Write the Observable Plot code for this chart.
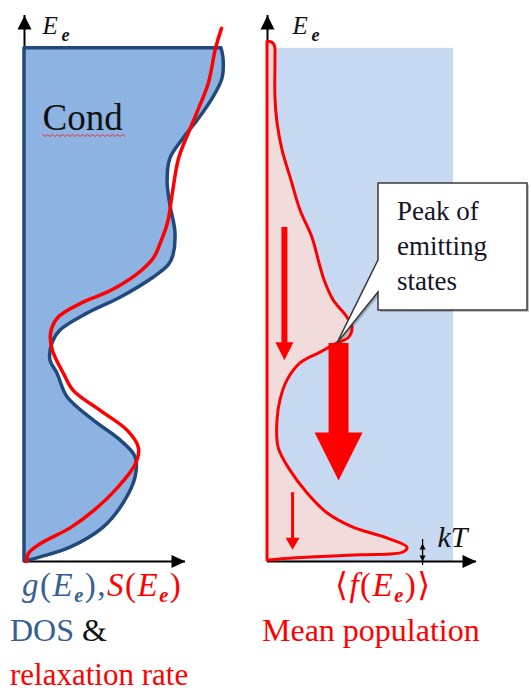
<!DOCTYPE html>
<html>
<head>
<meta charset="utf-8">
<script src="https://cdn.jsdelivr.net/npm/d3@7"></script>
<script src="https://cdn.jsdelivr.net/npm/@observablehq/plot@0.6"></script>
<style>
  body { margin: 0; background: #fff; }
  #fig { position: relative; width: 531px; height: 693px; font-family: "Liberation Serif", "Tinos", "Times New Roman", "DejaVu Serif", serif; }
  #fig svg { position: absolute; top: 0; }
  .cap { position: absolute; white-space: nowrap; line-height: 0.85; }
  .blue { color: #376092; }
  .red { color: #ff0000; }
  .ink { color: #111; }
  .sub { font-size: 0.62em; position: relative; top: 0.28em; font-weight: bold; }
</style>
</head>
<body>
<div id="fig">
  <div class="cap" style="left:22px;top:571px;font-size:33px;letter-spacing:1.5px"><span class="blue"><i>g</i>(<i>E</i><span class="sub"><i>e</i></span>),</span><span class="red"><i>S</i>(<i>E</i><span class="sub"><i>e</i></span>)</span></div>
  <div class="cap red" style="left:335px;top:571px;font-size:33px;letter-spacing:1.5px">⟨<i>f</i>(<i>E</i><span class="sub"><i>e</i></span>)⟩</div>
  <div class="cap" style="left:10px;top:617px;font-size:32px"><span class="blue">DOS</span> <span class="ink">&amp;</span></div>
  <div class="cap red" style="left:262px;top:617px;font-size:32px">Mean population</div>
  <div class="cap red" style="left:10px;top:662px;font-size:31px">relaxation rate</div>
</div>
<script>
// Electron energy E_e in arbitrary units; the conduction band spans 0–100.

// Density of states g(E_e)
const dosEnergy = [100, 98.0, 94.1, 89.8, 85.9, 82.4, 78.5, 73.9, 69.4, 64.1, 59.6, 57.7, 55.3, 51.4, 48.3, 45.0, 42.5, 39.2, 36.6, 32.0, 27.5, 23.6, 20.3, 16.4, 11.3, 6.6, 2.7, 0.8, 0];
const dosValue  = [97.9, 98.9, 98.4, 92.9, 86.0, 79.0, 72.5, 71.1, 72.5, 75.0, 74.0, 71.6, 64.1, 47.7, 31.3, 17.9, 13.9, 12.9, 16.4, 21.4, 34.3, 47.7, 55.2, 55.2, 49.2, 39.3, 22.9, 8.0, 0.5];

// Relaxation rate S(E_e)
const relaxEnergy = [103.9, 100, 93.3, 88.3, 83.6, 78.5, 71.9, 66.1, 62.2, 59.2, 56.1, 52.8, 50.3, 47.5, 44.4, 41.1, 36.6, 33.3, 29.4, 25.5, 22.2, 19.1, 14.4, 9.9, 6.6, 3.5, 1.6, 0];
const relaxValue  = [97.9, 94.9, 91.4, 86.5, 81.5, 76.5, 73.5, 71.1, 67.6, 64.1, 56.1, 42.7, 27.8, 16.4, 12.9, 13.9, 19.4, 24.3, 37.8, 51.2, 56.6, 55.2, 46.2, 34.3, 22.9, 8.0, 2.0, 1.0];

// Mean population <f(E_e)>
const popEnergy = [101.3, 101.1, 100.4, 98.0, 90.4, 85.4, 80.1, 74.2, 68.4, 63.1, 58.1, 54.8, 50.9, 47.5, 45.4, 43.5, 42.5, 40.7, 38.6, 35.3, 31.4, 27.5, 22.2, 17.7, 13.3, 9.4, 6.6, 4.5, 2.7, 1.75, 1.2, 0.6, 0.2];
const popValue  = [0.5, 2.4, 3.6, 3.8, 3.8, 4.8, 7.2, 11.5, 15.8, 21.5, 24.9, 27.3, 31.6, 38.3, 40.7, 38.8, 33.5, 25.4, 15.8, 9.6, 6.2, 4.8, 5.3, 11.0, 19.1, 28.7, 41.1, 57.4, 67.0, 65.1, 44.5, 12.4, 0.5];

// Downward relaxation paths in the population panel
const relaxAt       = [8.1, 34.0, 12.0];
const relaxFrom     = [65.1, 42.5, 13.4];
const relaxTo       = [39.2, 15.8, 2.3];
const relaxStrength = ["moderate", "strong", "weak"];

// Thermal energy width and the peak of emitting states
const kT = 3.5;
const emittingPeak = {f: 33.5, E: 42.5};
const calloutLines = ["Peak of", "emitting", "states"];
const conductionBand = [{E1: 0, E2: 100}];

const dos = dosEnergy.map((E, i) => ({E, g: dosValue[i]}));
const relax = relaxEnergy.map((E, i) => ({E, s: relaxValue[i]}));
const pop = popEnergy.map((E, i) => ({E, f: popValue[i]}));
const arrows = relaxAt.map((f, i) => ({f, from: relaxFrom[i], to: relaxTo[i], strength: relaxStrength[i]}));

const RED = "#ff0000";
const SERIF = "'Liberation Serif', Tinos, 'Times New Roman', 'DejaVu Serif', serif";

// Filled triangular arrow heads; the tip sits at the anchor point
const headDown = (w, l) => ({draw(c) { c.moveTo(0, 0); c.lineTo(-w / 2, -l); c.lineTo(w / 2, -l); c.closePath(); }});
const headUp = (w, l) => ({draw(c) { c.moveTo(0, 0); c.lineTo(-w / 2, l); c.lineTo(w / 2, l); c.closePath(); }});
const headRight = (w, l) => ({draw(c) { c.moveTo(0, 0); c.lineTo(-l, -w / 2); c.lineTo(-l, w / 2); c.closePath(); }});

function axisArrows() {
  return [
    Plot.ruleX([0], {stroke: "#000", strokeWidth: 2}),
    Plot.ruleY([0], {stroke: "#000", strokeWidth: 2}),
    Plot.dot([0], {x: d => d, frameAnchor: "top", symbol: headUp(14, 14), fill: "#000", stroke: "none"}),
    Plot.dot([0], {y: d => d, frameAnchor: "right", symbol: headRight(13, 14), fill: "#000", stroke: "none"})
  ];
}

function energyLabel(dx) {
  return [
    Plot.text(["E"], {frameAnchor: "top-left", dx, dy: 18, lineAnchor: "bottom", textAnchor: "start",
      fontFamily: SERIF, fontStyle: "italic", fontSize: 25, fill: "#111"}),
    Plot.text(["e"], {frameAnchor: "top-left", dx: dx + 19, dy: 25, lineAnchor: "bottom", textAnchor: "start",
      fontFamily: SERIF, fontStyle: "italic", fontWeight: "bold", fontSize: 18, fill: "#111"})
  ];
}

const arrowStyle = {
  strong:   {shaft: 20, head: [48, 48]},
  moderate: {shaft: 6,  head: [18, 18]},
  weak:     {shaft: 3,  head: [14, 12]}
};

const arrowMarks = arrows.flatMap(a => {
  const s = arrowStyle[a.strength];
  return [
    Plot.ruleX([a], {x: "f", y1: "from", y2: "to", stroke: RED, strokeWidth: s.shaft, insetBottom: s.head[1] - 1}),
    Plot.dot([a], {x: "f", y: "to", symbol: headDown(...s.head), fill: RED, stroke: "none"})
  ];
});

// Speech-bubble callout pointing at the emitting peak
function callout(index, scales) {
  const px = scales.x(emittingPeak.f), py = scales.y(emittingPeak.E);
  const g = d3.create("svg:g").attr("transform", `translate(${px},${py})`);
  const path = "M0,0L41,-51V-33H190V-160H41V-83Z";
  g.append("path").attr("d", path).attr("transform", "translate(2,2)").attr("fill", "#000").attr("opacity", 0.22);
  g.append("path").attr("d", path).attr("fill", "#fff").attr("stroke", "#3a3a3a").attr("stroke-width", 1.5);
  g.append("g")
      .attr("font-family", SERIF).attr("font-size", 27).attr("fill", "#15152a").attr("text-anchor", "start")
    .selectAll("text").data(calloutLines).join("text")
      .attr("x", 60).attr("y", (d, i) => -123 + 35 * i).text(d => d);
  return g.node();
}

const left = Plot.plot({
  width: 245, height: 570,
  marginLeft: 24, marginRight: 60, marginTop: 15, marginBottom: 9,
  x: {domain: [0, 80], axis: null},
  y: {domain: [0, 106.4], axis: null},
  style: {background: "transparent", overflow: "visible"},
  marks: [
    ...axisArrows(),
    Plot.areaX(dos, {y: "E", x1: 0, x2: "g", fill: "#8db3e2", stroke: "#23497a", strokeWidth: 3.5, curve: "catmull-rom"}),
    Plot.line(relax, {x: "s", y: "E", stroke: RED, strokeWidth: 3.5, curve: "catmull-rom"}),
    Plot.text(["Cond"], {frameAnchor: "top-left", dx: 18, dy: 114, lineAnchor: "bottom", textAnchor: "start",
      fontFamily: SERIF, fontSize: 37, fill: "#111"}),
    ...energyLabel(18)
  ]
});

const right = Plot.plot({
  width: 286, height: 570,
  marginLeft: 22, marginRight: 55, marginTop: 15, marginBottom: 9,
  x: {domain: [0, 100], axis: null},
  y: {domain: [0, 106.4], axis: null},
  style: {background: "transparent", overflow: "visible"},
  marks: [
    Plot.rect(conductionBand, {x1: 0, x2: 89, y1: "E1", y2: "E2", fill: "#c6d9f1"}),
    ...axisArrows(),
    Plot.areaX(pop, {y: "E", x1: 0, x2: "f", fill: "#f2dcdb", stroke: RED, strokeWidth: 3, curve: "catmull-rom"}),
    ...arrowMarks,
    Plot.ruleX([kT], {x: 74.2, y1: 0, y2: d => d, stroke: "#000", strokeWidth: 1.3, insetTop: 4, insetBottom: 4}),
    Plot.dot([kT], {x: 74.2, y: d => d, symbol: headUp(6, 6), fill: "#000", stroke: "none"}),
    Plot.dot([0], {x: 74.2, y: d => d, symbol: headDown(6, 6), fill: "#000", stroke: "none"}),
    Plot.text(["kT"], {x: 81.3, y: 2.9, lineAnchor: "bottom", textAnchor: "start",
      fontFamily: SERIF, fontStyle: "italic", fontSize: 30, fill: "#111"}),
    callout,
    ...energyLabel(25)
  ]
});

d3.select(left).style("left", "0px");
d3.select(right).style("left", "245px");
const fig = document.getElementById("fig");
fig.prepend(right);
fig.prepend(left);

// Wavy red proofing underline beneath the band label
const cond = d3.select(left).selectAll("text").filter(function() { return this.textContent === "Cond"; });
if (!cond.empty()) {
  const node = cond.node();
  const box = node.getBBox();
  const base = box.y + box.height - 3;
  const wave = d3.path();
  wave.moveTo(box.x, base);
  for (let x = box.x, k = 0; x < box.x + box.width; x += 2.5, k++) wave.lineTo(x + 2.5, base + (k % 2 ? 0 : 2));
  const p = d3.select(node.parentNode).append("path")
    .attr("d", wave.toString()).attr("fill", "none").attr("stroke", "#ee2020").attr("stroke-width", 0.9);
  const t = node.getAttribute("transform");
  if (t) p.attr("transform", t);
}
</script>
</body>
</html>
